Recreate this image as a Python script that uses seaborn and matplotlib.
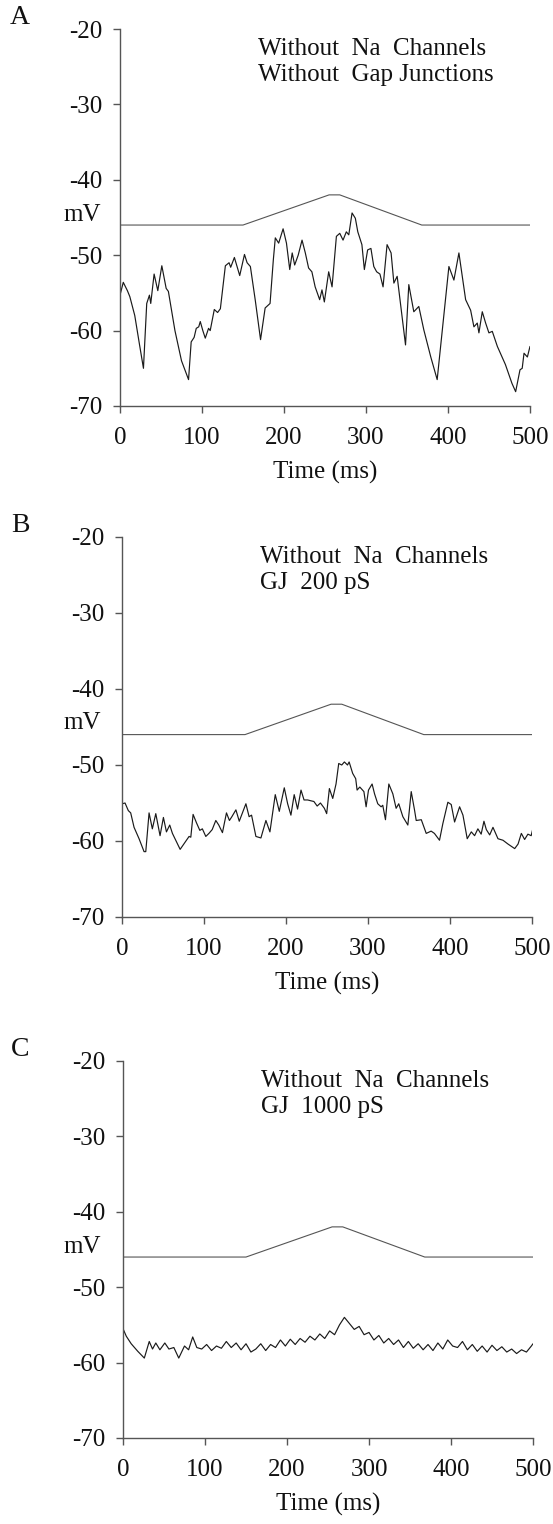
import numpy as np
import pandas as pd
import matplotlib
matplotlib.use("Agg")
import matplotlib.pyplot as plt
import seaborn as sns

# ---------------- data ----------------
stim_t = [0, 150, 255, 268, 368, 500]
stim_v = [-46, -46, -42, -42, -46, -46]

a_t = [0, 4, 9, 12, 18, 24, 28.6, 32.6, 35.9, 37.5, 41.6, 46.1, 51, 56.3, 59, 67, 75, 83.6,
       86.8, 90.4, 93, 96, 97.9, 101, 104, 108, 110, 115, 119, 122.4, 128.5, 133, 135, 139.5,
       146, 151.8, 155, 159, 165, 171.4, 177, 180, 183, 187, 189.4, 193.5, 198.9, 203, 207,
       210, 213, 217.3, 222, 226, 230, 234, 238, 243.5, 246.3, 249.2, 254.5, 258.6, 263.9,
       268, 272, 276, 279, 283, 287, 290, 295, 298, 302, 306, 309.5, 313, 317, 320.8, 325.7,
       330.6, 334, 338, 348.2, 352.2, 358.3, 364.4, 370.5, 379, 386.8, 401.1, 407.2, 413.3,
       421.5, 427.6, 431.6, 435.7, 437.7, 441.8, 445.9, 449.9, 454, 460.2, 470, 478, 482.5,
       487.8, 490.5, 492.7, 496.8, 500]
a_v = [-55.3, -53.6, -54.7, -55.5, -58.0, -62.0, -65.0, -56.4, -55.3, -56.4, -52.5, -54.7,
       -51.4, -54.4, -54.8, -60.0, -64.0, -66.5, -61.5, -60.9, -59.7, -59.5, -58.8, -60.0,
       -61.0, -59.7, -60.0, -57.2, -57.6, -57.1, -51.4, -51.0, -51.6, -50.3, -52.7, -49.9,
       -51.0, -51.5, -56.0, -61.2, -57.0, -56.7, -56.4, -50.6, -47.7, -48.4, -46.5, -48.4,
       -51.9, -49.7, -51.3, -50.0, -48.0, -49.7, -51.7, -52.2, -54.2, -55.9, -54.6, -56.2,
       -52.2, -54.2, -47.5, -47.1, -48.0, -46.9, -47.3, -44.4, -45.1, -46.9, -48.6, -51.9,
       -49.3, -49.1, -51.5, -52.2, -52.5, -54.2, -48.6, -49.7, -53.7, -52.8, -61.9, -53.9,
       -57.5, -56.8, -59.9, -63.5, -66.5, -51.5, -53.3, -49.7, -55.9, -57.3, -59.5, -59.0,
       -60.3, -57.5, -59.0, -60.3, -60.1, -62.1, -64.5, -67.0, -68.1, -65.2, -65.0, -63.0,
       -63.5, -62.1]

b_t = [0.4, 3.7, 7.7, 10.6, 14.7, 20.8, 26.9, 29, 33, 37, 41.2, 46.4, 50.5, 54.2, 58.2,
       61.5, 70.9, 81.8, 83.9, 86.7, 90.8, 94.9, 98, 102.2, 106, 110, 114.4, 118, 122.5,
       127.4, 131, 134, 138.9, 143, 151.1, 155, 158, 163.3, 169.4, 175.5, 180.4, 186.9,
       191.8, 197.9, 202, 206, 210, 214.1, 218.3, 222, 226.4, 230, 234, 238, 242, 246.8,
       249.6, 252.9, 257, 261, 264.3, 268, 271.2, 275, 277, 281.3, 285, 286.7, 290, 295,
       297.7, 300.6, 305, 308, 311.9, 316, 318, 321.3, 325.4, 330.3, 334.3, 337.5, 342.5,
       348.6, 352.7, 356.7, 358.8, 365, 371, 377, 381, 387.2, 391.3, 397.4, 401.5, 405.6,
       411.7, 415.8, 421, 426, 430, 434, 438, 441.4, 444.3, 448.4, 452.4, 458.5, 464.6,
       470.7, 478.9, 483, 487, 491, 495, 499, 501]
b_v = [-55.1, -55.0, -56.0, -56.3, -58.2, -59.7, -61.4, -61.4, -56.3, -58.4, -56.4, -59.3,
       -56.9, -58.8, -57.9, -59.0, -61.1, -59.4, -59.5, -56.5, -57.6, -58.6, -58.4, -59.4,
       -59.0, -58.5, -57.3, -57.9, -58.9, -56.3, -57.3, -56.8, -55.9, -57.4, -55.1, -56.8,
       -56.6, -59.4, -59.6, -57.3, -58.8, -53.9, -56.1, -53.0, -55.1, -56.6, -53.9, -55.8,
       -53.3, -54.6, -54.6, -54.7, -54.8, -55.4, -55.0, -55.7, -56.4, -53.1, -54.4, -52.5,
       -49.8, -50.0, -49.6, -50.0, -49.6, -51.1, -51.8, -53.3, -52.9, -53.5, -55.5, -53.3,
       -52.5, -53.8, -55.1, -55.5, -55.3, -57.2, -52.5, -53.8, -55.7, -55.1, -56.8, -57.9,
       -53.5, -55.9, -57.3, -57.2, -59.0, -58.7, -59.0, -59.9, -57.7, -54.9, -55.2, -57.5,
       -55.5, -56.6, -59.7, -58.8, -59.3, -58.4, -59.1, -57.4, -58.5, -59.2, -58.2, -59.7,
       -59.9, -60.4, -61.0, -60.4, -59.0, -59.8, -59.1, -59.3, -58.4]

c_t = [0, 4, 10, 18, 26, 32, 36, 40, 45, 51, 56, 62, 68, 75, 80, 85, 90, 96, 102, 108, 114,
       120, 126, 132, 138, 144, 150, 156, 162, 168, 174, 180, 186, 192, 198, 204, 210, 216,
       222, 228, 234, 240, 246, 252, 258, 264, 270, 276, 282, 288, 294, 300, 306, 312, 318,
       324, 330, 336, 342, 348, 354, 360, 366, 372, 378, 384, 390, 396, 402, 408, 414, 420,
       426, 432, 438, 444, 450, 456, 462, 468, 474, 480, 486, 492, 498, 500]
c_v = [-55.5, -56.5, -57.5, -58.5, -59.4, -57.2, -58.2, -57.4, -58.3, -57.4, -58.2, -58.0,
       -59.4, -57.8, -58.3, -56.6, -58.0, -58.2, -57.6, -58.4, -57.8, -58.1, -57.2, -58.0,
       -57.4, -58.3, -57.5, -58.6, -58.2, -57.5, -58.4, -57.6, -58.0, -57.0, -57.8, -56.9,
       -57.6, -56.8, -57.3, -56.5, -57.0, -56.2, -56.8, -55.8, -56.3, -55.0, -54.0, -54.8,
       -55.6, -55.2, -56.3, -56.0, -57.0, -56.4, -57.4, -56.8, -57.6, -57.0, -58.0, -57.2,
       -58.1, -57.5, -58.3, -57.6, -58.4, -57.4, -58.2, -57.0, -57.8, -58.0, -57.2, -58.3,
       -57.6, -58.5, -57.8, -58.6, -57.7, -58.4, -57.9, -58.6, -58.2, -58.8, -58.3, -58.6,
       -57.8, -57.5]

panel_letters = ["A", "B", "C"]
panel_notes = [["Without  Na  Channels", "Without  Gap Junctions"],
               ["Without  Na  Channels", "GJ  200 pS"],
               ["Without  Na  Channels", "GJ  1000 pS"]]
y_ticks = [-20, -30, -40, -50, -60, -70]
x_ticks = [0, 100, 200, 300, 400, 500]

# ---------------- style ----------------
sns.set_style("ticks")
plt.rcParams["font.family"] = ["Liberation Serif", "DejaVu Serif"]
plt.rcParams["axes.unicode_minus"] = False

W, H = 553, 1524
fig = plt.figure(figsize=(W / 100, H / 100), dpi=100)

# axes boxes in pixel coords: (left, top, right, bottom)
boxes = [(120, 29, 530, 406), (122, 537, 532, 917), (123, 1061, 533, 1438)]
traces = [(a_t, a_v), (b_t, b_v), (c_t, c_v)]
fs = 18
line_col = "#1a1a1a"
axis_col = "#555555"

for i, (box, (tt, vv)) in enumerate(zip(boxes, traces)):
    l, t, r, b = box
    ax = fig.add_axes([l / W, 1 - b / H, (r - l) / W, (b - t) / H])
    df_s = pd.DataFrame({"t": stim_t, "v": stim_v})
    df_v = pd.DataFrame({"t": tt, "v": vv})
    sns.lineplot(data=df_s, x="t", y="v", ax=ax, color="#555555", lw=0.8, estimator=None, sort=False)
    sns.lineplot(data=df_v, x="t", y="v", ax=ax, color=line_col, lw=0.85, estimator=None, sort=False)
    ax.set_xlim(0, 500)
    ax.set_ylim(-70, -20)
    ax.set_xticks(x_ticks)
    ax.set_yticks(y_ticks)
    ax.set_xticklabels([str(x) for x in x_ticks])
    ax.set_yticklabels([str(y) for y in y_ticks])
    for s in ["top", "right"]:
        ax.spines[s].set_visible(False)
    for s in ["left", "bottom"]:
        ax.spines[s].set_color(axis_col)
        ax.spines[s].set_linewidth(1.0)
    ax.tick_params(axis="both", direction="out", length=5, width=1.0, color=axis_col,
                   labelsize=fs, pad=8, labelcolor="#111111")
    ax.tick_params(axis="x", pad=10)
    ax.set_xlabel("Time (ms)", fontsize=fs, color="#111111", labelpad=9)
    ax.set_ylabel("")
    ax.text(0.337, 1 - 20 / 377, panel_notes[i][0], transform=ax.transAxes,
            fontsize=fs, va="center", ha="left", color="#111111")
    ax.text(0.337, 1 - 46 / 377, panel_notes[i][1], transform=ax.transAxes,
            fontsize=fs, va="center", ha="left", color="#111111")
    # mV label and panel letter
    fig.text(82 / W, 1 - (t + 186) / H, "mV", fontsize=fs, ha="center", va="center", color="#111111")
    fig.text(20 / W, 1 - (t - 12) / H, panel_letters[i], fontsize=fs + 2, ha="center", va="center",
             color="#111111")

fig.savefig("out.png", dpi=100, facecolor="white")
